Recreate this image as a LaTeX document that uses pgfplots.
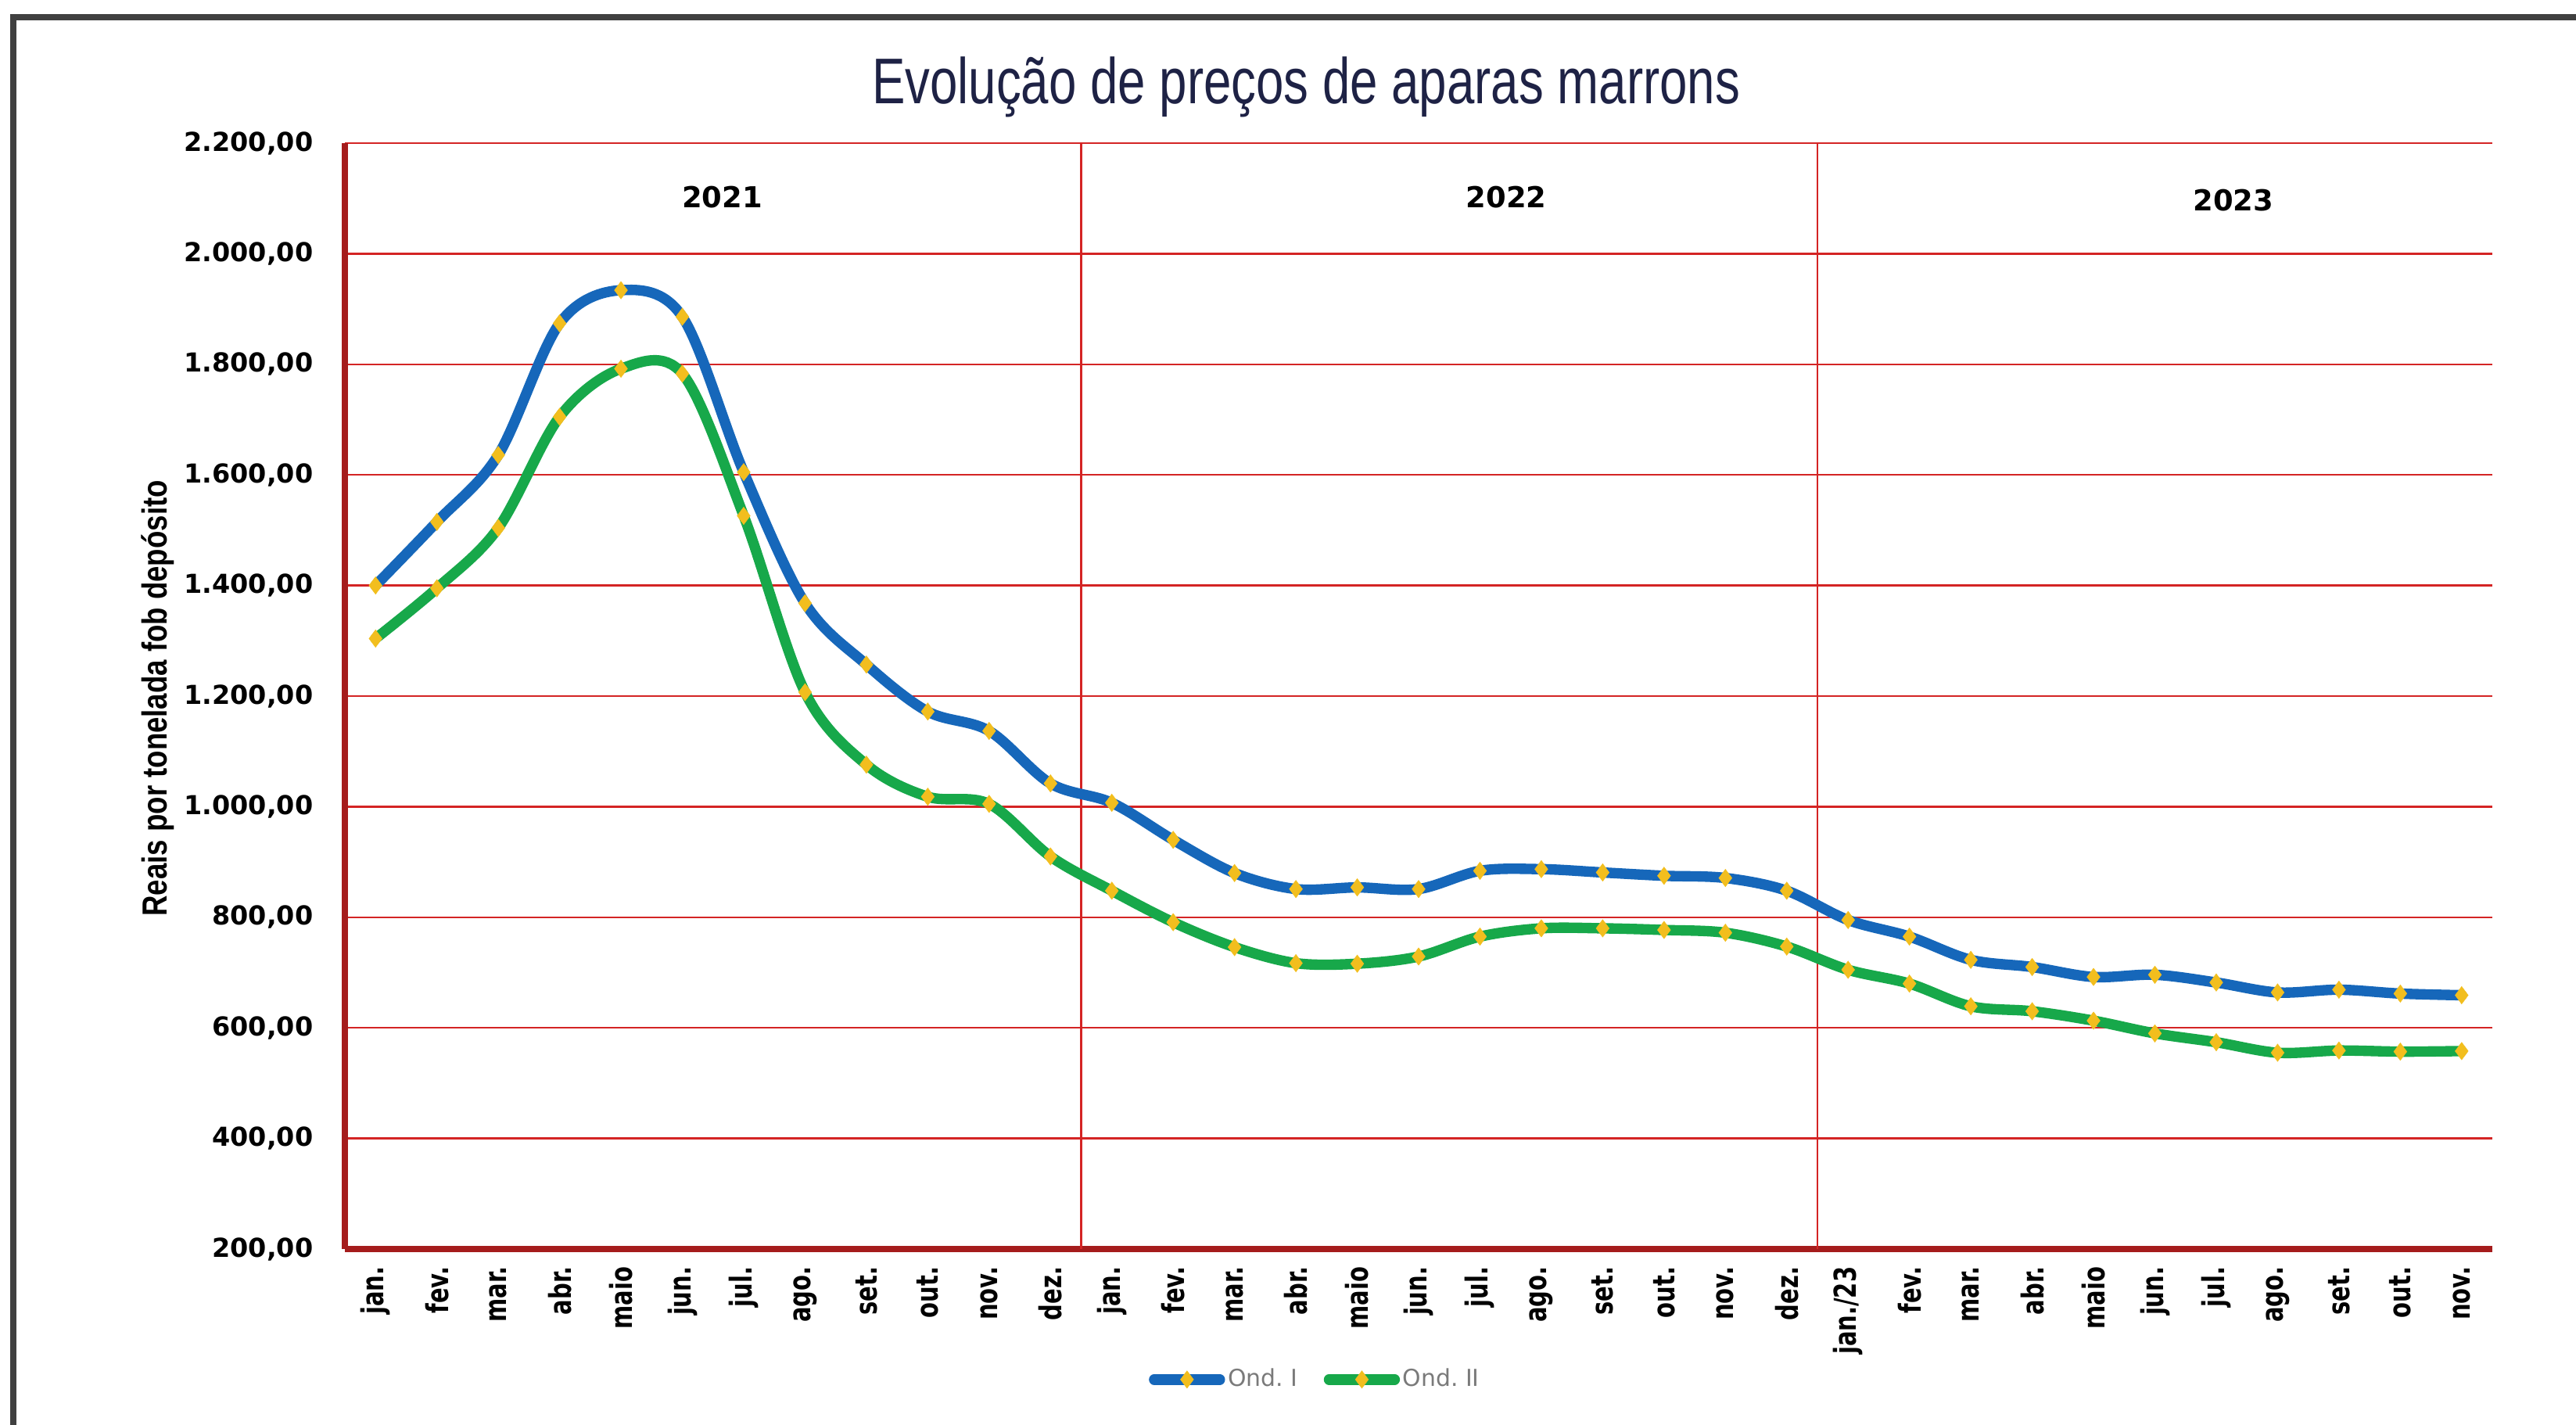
\documentclass[border=0pt]{standalone}
\usepackage{pgfplots}
\pgfplotsset{compat=1.18}
\usepackage{fontspec}
\setmainfont{DejaVu Sans}
\newfontfamily\titlefont[FakeStretch=0.77]{Liberation Sans}
\newfontfamily\condfont[FakeStretch=0.82]{Liberation Sans}
\newfontfamily\tickfont{DejaVu Sans}
\newfontfamily\xtickfont[FakeStretch=0.75]{DejaVu Sans}
\definecolor{ondI}{HTML}{1667BA}
\definecolor{ondII}{HTML}{17A84A}
\definecolor{mk}{HTML}{F2BE1E}
\definecolor{gridred}{HTML}{D42424}
\definecolor{axisred}{HTML}{A51C1C}
\definecolor{titlenavy}{HTML}{1E2245}
\definecolor{legendgray}{HTML}{7A7A7A}
\begin{document}
\begin{tikzpicture}
\useasboundingbox (0,0) rectangle (32.94cm,18.21cm);
\draw[line width=2.2pt, color=black!75] (0.17cm,-1cm) -- (0.17cm,17.99cm) -- (34cm,17.99cm);
\begin{axis}[
  at={(4.41cm,2.24cm)}, anchor=south west,
  scale only axis, width=27.46cm, height=14.14cm,
  xmin=-0.5, xmax=34.5, ymin=200, ymax=2200,
  axis lines*=left,
  axis line style={line width=2pt, color=axisred},
  ytick={200,400,...,2200},
  xtick={0,...,34},
  xticklabels={jan.,fev.,mar.,abr.,maio,jun.,jul.,ago.,set.,out.,nov.,dez.,jan.,fev.,mar.,abr.,maio,jun.,jul.,ago.,set.,out.,nov.,dez.,jan./23,fev.,mar.,abr.,maio,jun.,jul.,ago.,set.,out.,nov.},
  major tick length=0pt,
  ymajorgrids,
  grid style={line width=0.7pt, color=gridred},
  extra x ticks={11.5,23.5},
  extra x tick labels={},
  extra x tick style={xmajorgrids=true, grid style={line width=0.7pt, color=gridred}},
  /pgf/number format/fixed,
  /pgf/number format/fixed zerofill,
  /pgf/number format/precision=2,
  /pgf/number format/use comma,
  /pgf/number format/1000 sep={.},
  /pgf/number format/assume math mode=true,
  yticklabel style={font=\tickfont\bfseries\fontsize{9.5}{11}\selectfont, anchor=east, inner sep=0pt},
  yticklabel shift=0.4cm,
  xticklabel style={font=\xtickfont\bfseries\fontsize{11}{13}\selectfont, rotate=90, anchor=east, inner sep=0pt},
  xticklabel shift=0.22cm,
  title={Evolução de preços de aparas marrons},
  title style={at={(axis description cs:0.4476,1.036)}, anchor=center, font=\titlefont\fontsize{23.5}{27}\selectfont, text=titlenavy},
  ylabel={Reais por tonelada fob depósito},
  ylabel style={at={(axis description cs:-0.087,0.498)}, anchor=center, font=\condfont\bfseries\fontsize{12.7}{14}\selectfont},
  legend style={at={(axis description cs:0.452,-0.118)}, anchor=center, draw=none, fill=none, legend columns=2, font=\fontsize{8.5}{10}\selectfont, text=legendgray, /tikz/every even column/.append style={column sep=0.3cm}, inner sep=0pt, nodes={inner sep=1pt}},
  legend image code/.code={\draw[#1, mark repeat=2, mark phase=2, line cap=round] plot coordinates {(0cm,0cm) (0.42cm,0cm) (0.84cm,0cm)};},
]
\addplot[smooth, tension=0.55, color=ondI, line width=3.8pt, line cap=round, mark=diamond*, mark size=3.2pt, mark options={draw=mk, fill=mk, line width=0.1pt}] coordinates {
(0,1400) (1,1515) (2,1636) (3,1874) (4,1934) (5,1886) (6,1605) (7,1368) (8,1257) (9,1172) (10,1137) (11,1042)
(12,1007) (13,940) (14,880) (15,851) (16,854) (17,851) (18,884) (19,887) (20,881) (21,875) (22,871) (23,848)
(24,795) (25,765) (26,723) (27,710) (28,692) (29,696) (30,682) (31,664) (32,669) (33,662) (34,659)};
\addlegendentry{Ond.\ I}
\addplot[smooth, tension=0.55, color=ondII, line width=3.8pt, line cap=round, mark=diamond*, mark size=3.2pt, mark options={draw=mk, fill=mk, line width=0.1pt}] coordinates {
(0,1304) (1,1395) (2,1504) (3,1705) (4,1792) (5,1783) (6,1526) (7,1207) (8,1076) (9,1018) (10,1005) (11,910)
(12,848) (13,791) (14,746) (15,717) (16,716) (17,729) (18,765) (19,780) (20,780) (21,777) (22,772) (23,747)
(24,705) (25,680) (26,639) (27,630) (28,613) (29,590) (30,574) (31,555) (32,559) (33,557) (34,558)};
\addlegendentry{Ond.\ II}
\node[font=\tickfont\bfseries\fontsize{10.5}{12}\selectfont] at (axis cs:5.65,2102) {2021};
\node[font=\tickfont\bfseries\fontsize{10.5}{12}\selectfont] at (axis cs:18.43,2102) {2022};
\node[font=\tickfont\bfseries\fontsize{10.5}{12}\selectfont] at (axis cs:30.28,2096) {2023};
\end{axis}
\end{tikzpicture}
\end{document}
